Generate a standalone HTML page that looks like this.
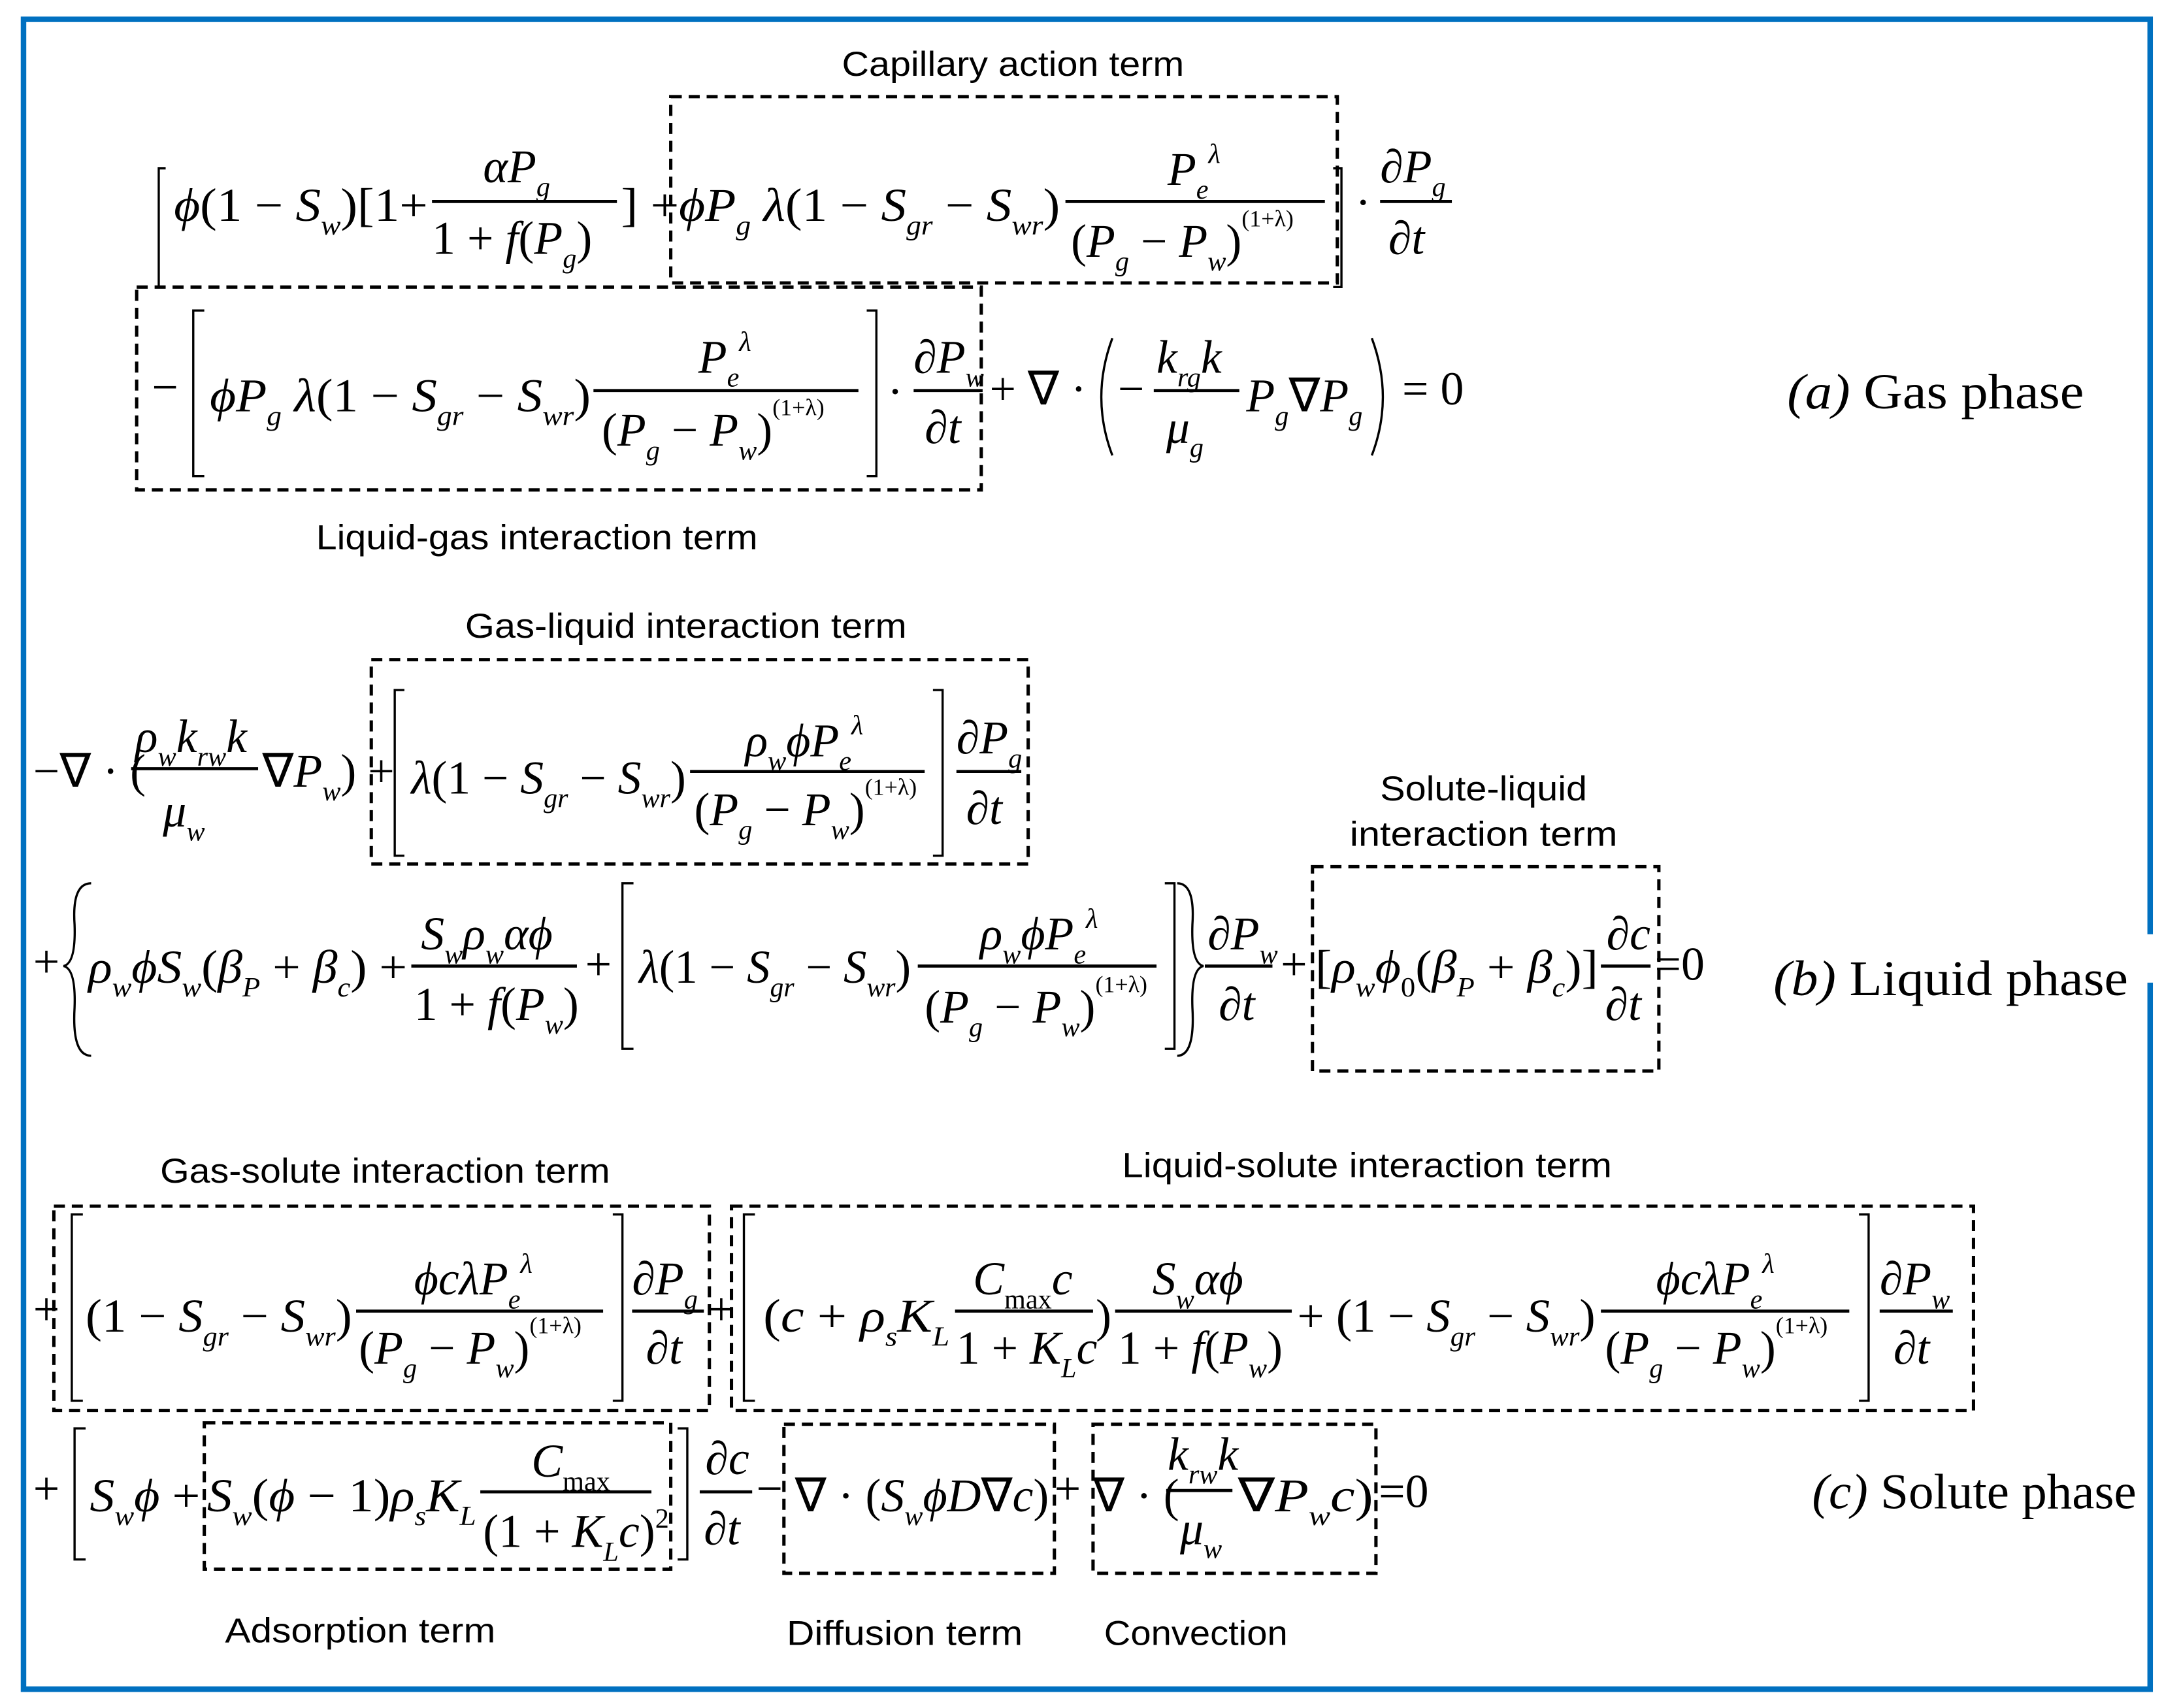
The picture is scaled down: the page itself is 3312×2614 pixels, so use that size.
<!DOCTYPE html>
<html><head><meta charset="utf-8"><style>
html,body{margin:0;padding:0;background:#fff;}
svg{display:block}
.m{font-family:"Liberation Serif",serif;font-style:italic;font-size:34px;fill:#000}
.n{font-style:normal}
.l{font-family:"Liberation Sans",sans-serif;font-size:25px;fill:#000}
.t{font-family:"Liberation Serif",serif;font-size:36px;fill:#000}
.b{stroke:#000;stroke-width:2.2;fill:none}
.d{stroke:#000;stroke-width:2.4;fill:none;stroke-dasharray:8 5}
.br{stroke:#000;stroke-width:1.6;fill:none}
</style></head><body>
<svg width="3312" height="2614" viewBox="0 0 1568 1237.6" xmlns="http://www.w3.org/2000/svg">
<!-- frame -->
<path d="M1558,677 V14 H17 V1224 H1558 V712" stroke="#0070C0" stroke-width="4" fill="none"/>

<!-- ===== (a) ===== -->
<text class="l" x="610" y="55" textLength="248" lengthAdjust="spacingAndGlyphs">Capillary action term</text>
<rect class="d" x="486" y="70" width="483" height="135"/>
<path class="br" d="M120,122 H115 V208 H120"/>
<text class="m" x="126" y="160" textLength="184" lengthAdjust="spacingAndGlyphs">ϕ<tspan class="n">(1 − </tspan>S<tspan font-size="20" dy="10">w</tspan><tspan class="n" dy="-10">)[1+</tspan></text>
<text class="m" x="350" y="132">αP<tspan font-size="20" dy="10">g</tspan></text>
<line class="b" x1="313" y1="146" x2="447" y2="146"/>
<text class="m" x="313" y="184"><tspan class="n">1 + </tspan>f<tspan class="n">(</tspan>P<tspan font-size="20" dy="10">g</tspan><tspan class="n" dy="-10">)</tspan></text>
<text class="m" x="450" y="160" textLength="318" lengthAdjust="spacingAndGlyphs"><tspan class="n">] +</tspan>ϕP<tspan font-size="20" dy="10">g</tspan><tspan dy="-10"> λ</tspan><tspan class="n">(1 − </tspan>S<tspan font-size="20" dy="10">gr</tspan><tspan class="n" dy="-10"> − </tspan>S<tspan font-size="20" dy="10">wr</tspan><tspan class="n" dy="-10">)</tspan></text>
<text class="m" x="846" y="134">P<tspan font-size="20" dy="10">e</tspan><tspan font-size="20" dy="-26">λ</tspan></text>
<line class="b" x1="772" y1="146" x2="960" y2="146"/>
<text class="m" x="776" y="186"><tspan class="n">(</tspan>P<tspan font-size="20" dy="10">g</tspan><tspan class="n" dy="-10"> − </tspan>P<tspan font-size="20" dy="10">w</tspan><tspan class="n" dy="-10">)</tspan><tspan class="n" font-size="17" dy="-22">(1+λ)</tspan></text>
<path class="br" d="M966,122 H972 V208 H966"/>
<text class="m" x="982" y="158"><tspan class="n">·</tspan></text>
<text class="m" x="1000" y="132"><tspan class="n">∂</tspan>P<tspan font-size="20" dy="10">g</tspan></text>
<line class="b" x1="1000" y1="146" x2="1052" y2="146"/>
<text class="m" x="1006" y="184"><tspan class="n">∂</tspan>t</text>

<rect class="d" x="99" y="208" width="612" height="147"/>
<text class="m" x="110" y="292"><tspan class="n">−</tspan></text>
<path class="br" d="M148,225 H140 V345 H148"/>
<text class="m" x="152" y="298" textLength="276" lengthAdjust="spacingAndGlyphs">ϕP<tspan font-size="20" dy="10">g</tspan><tspan dy="-10"> λ</tspan><tspan class="n">(1 − </tspan>S<tspan font-size="20" dy="10">gr</tspan><tspan class="n" dy="-10"> − </tspan>S<tspan font-size="20" dy="10">wr</tspan><tspan class="n" dy="-10">)</tspan></text>
<text class="m" x="506" y="270">P<tspan font-size="20" dy="10">e</tspan><tspan font-size="20" dy="-26">λ</tspan></text>
<line class="b" x1="430" y1="283" x2="622" y2="283"/>
<text class="m" x="436" y="323"><tspan class="n">(</tspan>P<tspan font-size="20" dy="10">g</tspan><tspan class="n" dy="-10"> − </tspan>P<tspan font-size="20" dy="10">w</tspan><tspan class="n" dy="-10">)</tspan><tspan class="n" font-size="17" dy="-22">(1+λ)</tspan></text>
<path class="br" d="M628,225 H635 V345 H628"/>
<text class="m" x="643" y="295"><tspan class="n">·</tspan></text>
<text class="m" x="662" y="270"><tspan class="n">∂</tspan>P<tspan font-size="20" dy="10">w</tspan></text>
<line class="b" x1="662" y1="283" x2="712" y2="283"/>
<text class="m" x="670" y="321"><tspan class="n">∂</tspan>t</text>
<text class="m" x="717" y="293"><tspan class="n">+ ∇ ·</tspan></text>
<path class="br" d="M806,245 Q790,288 806,330"/>
<text class="m" x="810" y="293"><tspan class="n">−</tspan></text>
<text class="m" x="838" y="270">k<tspan font-size="20" dy="10">rg</tspan><tspan dy="-10">k</tspan></text>
<line class="b" x1="836" y1="283" x2="898" y2="283"/>
<text class="m" x="845" y="321">μ<tspan font-size="20" dy="10">g</tspan></text>
<text class="m" x="903" y="298">P<tspan font-size="20" dy="10">g</tspan><tspan class="n" dy="-10">∇</tspan>P<tspan font-size="20" dy="10">g</tspan></text>
<path class="br" d="M994,245 Q1010,288 994,330"/>
<text class="m" x="1016" y="293"><tspan class="n">= 0</tspan></text>
<text class="t" x="1295" y="296" textLength="215" lengthAdjust="spacingAndGlyphs"><tspan font-style="italic">(a)</tspan>  Gas phase</text>
<text class="l" x="229" y="398" textLength="320" lengthAdjust="spacingAndGlyphs">Liquid-gas interaction term</text>

<!-- ===== (b) ===== -->
<text class="l" x="337" y="462" textLength="320" lengthAdjust="spacingAndGlyphs">Gas-liquid interaction term</text>
<rect class="d" x="269" y="478" width="476" height="148"/>
<text class="m" x="24" y="570"><tspan class="n">−∇ · (</tspan></text>
<text class="m" x="98" y="545">ρ<tspan font-size="20" dy="10">w</tspan><tspan dy="-10">k</tspan><tspan font-size="20" dy="10">rw</tspan><tspan dy="-10">k</tspan></text>
<line class="b" x1="95" y1="557" x2="187" y2="557"/>
<text class="m" x="118" y="599">μ<tspan font-size="20" dy="10">w</tspan></text>
<text class="m" x="190" y="570"><tspan class="n">∇</tspan>P<tspan font-size="20" dy="10">w</tspan><tspan class="n" dy="-10">) +</tspan></text>
<path class="br" d="M293,500 H286 V620 H293"/>
<text class="m" x="298" y="575" textLength="199" lengthAdjust="spacingAndGlyphs">λ<tspan class="n">(1 − </tspan>S<tspan font-size="20" dy="10">gr</tspan><tspan class="n" dy="-10"> − </tspan>S<tspan font-size="20" dy="10">wr</tspan><tspan class="n" dy="-10">)</tspan></text>
<text class="m" x="540" y="548">ρ<tspan font-size="20" dy="10">w</tspan><tspan dy="-10">ϕP</tspan><tspan font-size="20" dy="10">e</tspan><tspan font-size="20" dy="-26">λ</tspan></text>
<line class="b" x1="500" y1="559" x2="670" y2="559"/>
<text class="m" x="503" y="598"><tspan class="n">(</tspan>P<tspan font-size="20" dy="10">g</tspan><tspan class="n" dy="-10"> − </tspan>P<tspan font-size="20" dy="10">w</tspan><tspan class="n" dy="-10">)</tspan><tspan class="n" font-size="17" dy="-22">(1+λ)</tspan></text>
<path class="br" d="M676,500 H683 V620 H676"/>
<text class="m" x="693" y="546"><tspan class="n">∂</tspan>P<tspan font-size="20" dy="10">g</tspan></text>
<line class="b" x1="693" y1="559" x2="740" y2="559"/>
<text class="m" x="700" y="597"><tspan class="n">∂</tspan>t</text>

<text class="l" x="1000" y="580" textLength="150" lengthAdjust="spacingAndGlyphs">Solute-liquid</text>
<text class="l" x="978" y="613" textLength="194" lengthAdjust="spacingAndGlyphs">interaction term</text>
<rect class="d" x="951" y="628" width="251" height="148"/>
<text class="m" x="24" y="708"><tspan class="n">+</tspan></text>
<path class="br" d="M66,640 Q52,640 54,670 Q55,698 46,700 Q55,702 54,730 Q52,765 66,765"/>
<text class="m" x="64" y="712" textLength="231" lengthAdjust="spacingAndGlyphs">ρ<tspan font-size="20" dy="10">w</tspan><tspan dy="-10">ϕS</tspan><tspan font-size="20" dy="10">w</tspan><tspan class="n" dy="-10">(</tspan>β<tspan font-size="20" dy="10">P</tspan><tspan class="n" dy="-10"> + </tspan>β<tspan font-size="20" dy="10">c</tspan><tspan class="n" dy="-10">) +</tspan></text>
<text class="m" x="305" y="688">S<tspan font-size="20" dy="10">w</tspan><tspan dy="-10">ρ</tspan><tspan font-size="20" dy="10">w</tspan><tspan dy="-10">αϕ</tspan></text>
<line class="b" x1="298" y1="700" x2="418" y2="700"/>
<text class="m" x="300" y="739"><tspan class="n">1 + </tspan>f<tspan class="n">(</tspan>P<tspan font-size="20" dy="10">w</tspan><tspan class="n" dy="-10">)</tspan></text>
<text class="m" x="424" y="710"><tspan class="n">+</tspan></text>
<path class="br" d="M459,640 H451 V760 H459"/>
<text class="m" x="463" y="712" textLength="197" lengthAdjust="spacingAndGlyphs">λ<tspan class="n">(1 − </tspan>S<tspan font-size="20" dy="10">gr</tspan><tspan class="n" dy="-10"> − </tspan>S<tspan font-size="20" dy="10">wr</tspan><tspan class="n" dy="-10">)</tspan></text>
<text class="m" x="710" y="688">ρ<tspan font-size="20" dy="10">w</tspan><tspan dy="-10">ϕP</tspan><tspan font-size="20" dy="10">e</tspan><tspan font-size="20" dy="-26">λ</tspan></text>
<line class="b" x1="665" y1="700" x2="838" y2="700"/>
<text class="m" x="670" y="741"><tspan class="n">(</tspan>P<tspan font-size="20" dy="10">g</tspan><tspan class="n" dy="-10"> − </tspan>P<tspan font-size="20" dy="10">w</tspan><tspan class="n" dy="-10">)</tspan><tspan class="n" font-size="17" dy="-22">(1+λ)</tspan></text>
<path class="br" d="M844,640 H851 V760 H844"/>
<path class="br" d="M853,640 Q866,640 864,670 Q863,698 872,700 Q863,702 864,730 Q866,765 853,765"/>
<text class="m" x="875" y="688"><tspan class="n">∂</tspan>P<tspan font-size="20" dy="10">w</tspan></text>
<line class="b" x1="873" y1="700" x2="922" y2="700"/>
<text class="m" x="883" y="739"><tspan class="n">∂</tspan>t</text>
<text class="m" x="928" y="710"><tspan class="n">+</tspan></text>
<text class="m" x="953" y="712" textLength="205" lengthAdjust="spacingAndGlyphs"><tspan class="n">[</tspan>ρ<tspan font-size="20" dy="10">w</tspan><tspan dy="-10">ϕ</tspan><tspan class="n" font-size="20" dy="10">0</tspan><tspan class="n" dy="-10">(</tspan>β<tspan font-size="20" dy="10">P</tspan><tspan class="n" dy="-10"> + </tspan>β<tspan font-size="20" dy="10">c</tspan><tspan class="n" dy="-10">)]</tspan></text>
<text class="m" x="1164" y="688"><tspan class="n">∂</tspan>c</text>
<line class="b" x1="1160" y1="700" x2="1196" y2="700"/>
<text class="m" x="1163" y="739"><tspan class="n">∂</tspan>t</text>
<text class="m" x="1199" y="710"><tspan class="n">=0</tspan></text>
<text class="t" x="1285" y="721" textLength="257" lengthAdjust="spacingAndGlyphs"><tspan font-style="italic">(b)</tspan>  Liquid phase</text>

<!-- ===== (c) ===== -->
<text class="l" x="116" y="857" textLength="326" lengthAdjust="spacingAndGlyphs">Gas-solute interaction term</text>
<text class="l" x="813" y="853" textLength="355" lengthAdjust="spacingAndGlyphs">Liquid-solute interaction term</text>
<rect class="d" x="39" y="874" width="475" height="148"/>
<rect class="d" x="530" y="874" width="900" height="148"/>
<text class="m" x="24" y="960"><tspan class="n">+</tspan></text>
<path class="br" d="M60,880 H52 V1015 H60"/>
<text class="m" x="62" y="965" textLength="193" lengthAdjust="spacingAndGlyphs"><tspan class="n">(1 − </tspan>S<tspan font-size="20" dy="10">gr</tspan><tspan class="n" dy="-10"> − </tspan>S<tspan font-size="20" dy="10">wr</tspan><tspan class="n" dy="-10">)</tspan></text>
<text class="m" x="300" y="938">ϕcλP<tspan font-size="20" dy="10">e</tspan><tspan font-size="20" dy="-26">λ</tspan></text>
<line class="b" x1="258" y1="950" x2="437" y2="950"/>
<text class="m" x="260" y="988"><tspan class="n">(</tspan>P<tspan font-size="20" dy="10">g</tspan><tspan class="n" dy="-10"> − </tspan>P<tspan font-size="20" dy="10">w</tspan><tspan class="n" dy="-10">)</tspan><tspan class="n" font-size="17" dy="-22">(1+λ)</tspan></text>
<path class="br" d="M444,880 H451 V1015 H444"/>
<text class="m" x="458" y="938"><tspan class="n">∂</tspan>P<tspan font-size="20" dy="10">g</tspan></text>
<line class="b" x1="458" y1="950" x2="510" y2="950"/>
<text class="m" x="468" y="988"><tspan class="n">∂</tspan>t</text>
<text class="m" x="513" y="960"><tspan class="n">+</tspan></text>
<path class="br" d="M547,880 H539 V1015 H547"/>
<text class="m" x="553" y="965" textLength="135" lengthAdjust="spacingAndGlyphs"><tspan class="n">(</tspan>c<tspan class="n"> + </tspan>ρ<tspan font-size="20" dy="10">s</tspan><tspan dy="-10">K</tspan><tspan font-size="20" dy="10">L</tspan></text>
<text class="m" x="705" y="938">C<tspan class="n" font-size="20" dy="10">max</tspan><tspan dy="-10">c</tspan></text>
<line class="b" x1="692" y1="950" x2="792" y2="950"/>
<text class="m" x="693" y="988"><tspan class="n">1 + </tspan>K<tspan font-size="20" dy="10">L</tspan><tspan dy="-10">c</tspan></text>
<text class="m" x="794" y="965"><tspan class="n">)</tspan></text>
<text class="m" x="835" y="938">S<tspan font-size="20" dy="10">w</tspan><tspan dy="-10">αϕ</tspan></text>
<line class="b" x1="808" y1="950" x2="936" y2="950"/>
<text class="m" x="810" y="988"><tspan class="n">1 + </tspan>f<tspan class="n">(</tspan>P<tspan font-size="20" dy="10">w</tspan><tspan class="n" dy="-10">)</tspan></text>
<text class="m" x="940" y="965" textLength="216" lengthAdjust="spacingAndGlyphs"><tspan class="n">+ (1 − </tspan>S<tspan font-size="20" dy="10">gr</tspan><tspan class="n" dy="-10"> − </tspan>S<tspan font-size="20" dy="10">wr</tspan><tspan class="n" dy="-10">)</tspan></text>
<text class="m" x="1200" y="938">ϕcλP<tspan font-size="20" dy="10">e</tspan><tspan font-size="20" dy="-26">λ</tspan></text>
<line class="b" x1="1160" y1="950" x2="1340" y2="950"/>
<text class="m" x="1163" y="988"><tspan class="n">(</tspan>P<tspan font-size="20" dy="10">g</tspan><tspan class="n" dy="-10"> − </tspan>P<tspan font-size="20" dy="10">w</tspan><tspan class="n" dy="-10">)</tspan><tspan class="n" font-size="17" dy="-22">(1+λ)</tspan></text>
<path class="br" d="M1347,880 H1354 V1015 H1347"/>
<text class="m" x="1362" y="938"><tspan class="n">∂</tspan>P<tspan font-size="20" dy="10">w</tspan></text>
<line class="b" x1="1362" y1="950" x2="1415" y2="950"/>
<text class="m" x="1372" y="988"><tspan class="n">∂</tspan>t</text>

<rect class="d" x="148" y="1031" width="338" height="106"/>
<rect class="d" x="568" y="1032" width="196" height="108"/>
<rect class="d" x="792" y="1032" width="205" height="108"/>
<text class="m" x="24" y="1090"><tspan class="n">+</tspan></text>
<path class="br" d="M62,1035 H54 V1130 H62"/>
<text class="m" x="65" y="1095" textLength="80" lengthAdjust="spacingAndGlyphs">S<tspan font-size="20" dy="10">w</tspan><tspan dy="-10">ϕ</tspan><tspan class="n"> +</tspan></text>
<text class="m" x="150" y="1095" textLength="195" lengthAdjust="spacingAndGlyphs">S<tspan font-size="20" dy="10">w</tspan><tspan class="n" dy="-10">(</tspan>ϕ<tspan class="n"> − 1)</tspan>ρ<tspan font-size="20" dy="10">s</tspan><tspan dy="-10">K</tspan><tspan font-size="20" dy="10">L</tspan></text>
<text class="m" x="385" y="1070">C<tspan class="n" font-size="20" dy="10">max</tspan></text>
<line class="b" x1="348" y1="1081" x2="472" y2="1081"/>
<text class="m" x="350" y="1121"><tspan class="n">(1 + </tspan>K<tspan font-size="20" dy="10">L</tspan><tspan dy="-10">c</tspan><tspan class="n">)</tspan><tspan class="n" font-size="20" dy="-14">2</tspan></text>
<path class="br" d="M491,1035 H498 V1130 H491"/>
<text class="m" x="511" y="1068"><tspan class="n">∂</tspan>c</text>
<line class="b" x1="507" y1="1081" x2="545" y2="1081"/>
<text class="m" x="510" y="1119"><tspan class="n">∂</tspan>t</text>
<text class="m" x="548" y="1090"><tspan class="n">−</tspan></text>
<text class="m" x="576" y="1095" textLength="184" lengthAdjust="spacingAndGlyphs"><tspan class="n">∇ · (</tspan>S<tspan font-size="20" dy="10">w</tspan><tspan dy="-10">ϕD</tspan><tspan class="n">∇</tspan>c<tspan class="n">)</tspan></text>
<text class="m" x="764" y="1090"><tspan class="n">+</tspan></text>
<text class="m" x="792" y="1095"><tspan class="n">∇ · (</tspan></text>
<text class="m" x="846" y="1065">k<tspan font-size="20" dy="10">rw</tspan><tspan dy="-10">k</tspan></text>
<line class="b" x1="845" y1="1080" x2="893" y2="1080"/>
<text class="m" x="855" y="1119">μ<tspan font-size="20" dy="10">w</tspan></text>
<text class="m" x="897" y="1095" textLength="98" lengthAdjust="spacingAndGlyphs"><tspan class="n">∇</tspan>P<tspan font-size="20" dy="10">w</tspan><tspan dy="-10">c</tspan><tspan class="n">)</tspan></text>
<text class="m" x="999" y="1092"><tspan class="n">=0</tspan></text>
<text class="t" x="1313" y="1093" textLength="235" lengthAdjust="spacingAndGlyphs"><tspan font-style="italic">(c)</tspan>  Solute phase</text>

<text class="l" x="163" y="1190" textLength="196" lengthAdjust="spacingAndGlyphs">Adsorption term</text>
<text class="l" x="570" y="1192" textLength="171" lengthAdjust="spacingAndGlyphs">Diffusion term</text>
<text class="l" x="800" y="1192" textLength="133" lengthAdjust="spacingAndGlyphs">Convection</text>
</svg>
</body></html>
